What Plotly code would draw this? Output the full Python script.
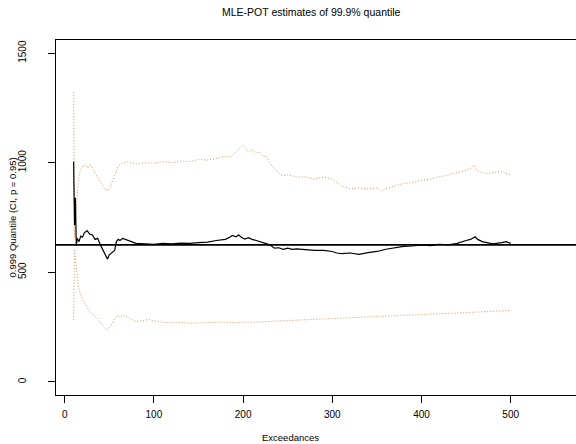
import plotly.graph_objects as go

# Number of exceedances and MLE-POT estimate of the 99.9% quantile
est_n = [10, 11, 12, 13, 14, 16, 18, 20, 22, 25, 28, 31, 34, 37, 40, 43, 46, 48, 50, 53,
         56, 58, 60, 62, 65, 68, 72, 76, 80, 90, 100, 110, 120, 130, 140, 150, 160, 170,
         180, 185, 188, 192, 195, 198, 202, 206, 210, 215, 220, 225, 230, 235, 240, 245,
         250, 255, 260, 270, 280, 290, 300, 305, 310, 320, 330, 340, 350, 360, 370, 380,
         390, 400, 410, 420, 430, 440, 450, 455, 460, 463, 468, 475, 480, 490, 495, 500]
est_q = [1005, 715, 840, 620, 655, 640, 665, 660, 680, 690, 675, 670, 650, 655, 625, 600,
         575, 560, 580, 590, 600, 640, 650, 645, 655, 650, 643, 636, 632, 630, 628, 632,
         630, 633, 632, 635, 638, 645, 650, 660, 668, 662, 670, 660, 652, 658, 650, 645,
         640, 632, 625, 610, 612, 605, 610, 605, 607, 603, 600, 600, 595, 588, 585, 588,
         582, 590, 595, 605, 612, 618, 620, 625, 622, 628, 625, 632, 645, 650, 662, 650,
         640, 636, 630, 635, 640, 632]

# Upper limit of the 95% confidence interval
upper_n = [10, 11, 12, 13, 14, 15, 16, 18, 20, 22, 24, 26, 28, 30, 33, 36, 39, 42, 45, 48,
           51, 54, 57, 60, 63, 66, 70, 75, 80, 90, 100, 110, 120, 130, 140, 150, 160, 170,
           180, 185, 190, 195, 200, 203, 206, 210, 214, 218, 222, 226, 230, 235, 240, 245,
           250, 260, 270, 280, 290, 300, 305, 310, 320, 330, 340, 350, 355, 360, 370, 380,
           390, 400, 410, 420, 430, 440, 450, 455, 459, 462, 468, 475, 482, 490, 495, 500]
upper_q = [1322, 660, 730, 800, 860, 905, 940, 970, 985, 990, 985, 975, 990, 985, 960, 940,
           915, 895, 880, 872, 890, 920, 950, 985, 995, 1000, 1005, 998, 995, 1000, 998,
           1005, 1000, 1008, 1005, 1015, 1012, 1020, 1030, 1025, 1040, 1060, 1080, 1065,
           1050, 1060, 1045, 1050, 1030, 1030, 1000, 975, 950, 940, 945, 935, 935, 925, 935,
           925, 910, 895, 880, 885, 880, 885, 870, 880, 895, 905, 910, 920, 925, 935, 945,
           955, 965, 975, 990, 965, 955, 950, 955, 962, 950, 945]

# Lower limit of the 95% confidence interval
lower_n = [10, 11, 12, 13, 14, 15, 16, 18, 20, 22, 25, 28, 31, 34, 37, 40, 43, 46, 48, 50,
           53, 56, 60, 63, 66, 70, 75, 80, 85, 90, 95, 100, 105, 110, 120, 130, 140, 150,
           160, 170, 180, 190, 200, 210, 220, 230, 240, 260, 280, 300, 320, 340, 360, 380,
           400, 420, 440, 460, 480, 500]
lower_q = [283, 600, 560, 520, 480, 445, 420, 395, 375, 360, 340, 320, 310, 300, 290, 270,
           255, 242, 238, 250, 265, 290, 300, 298, 305, 295, 285, 275, 278, 280, 285, 278,
           275, 272, 270, 272, 268, 270, 270, 272, 272, 270, 272, 272, 273, 276, 278, 282,
           286, 290, 294, 297, 301, 304, 308, 311, 314, 318, 322, 326]

# Reference level drawn across the panel
ref_level = 625

x_ticks = [0, 100, 200, 300, 400, 500]
y_ticks = [0, 500, 1000, 1500]

ci_color = "rgb(225,145,80)"
font_family = "Liberation Sans, Arial, Helvetica, sans-serif"

fig = go.Figure()
fig.add_trace(go.Scatter(x=upper_n, y=upper_q, mode="lines",
                         line=dict(color=ci_color, width=1, dash="1px,2px")))
fig.add_trace(go.Scatter(x=lower_n, y=lower_q, mode="lines",
                         line=dict(color=ci_color, width=1, dash="1px,2px")))
fig.add_trace(go.Scatter(x=est_n, y=est_q, mode="lines",
                         line=dict(color="black", width=1.2)))
fig.add_hline(y=ref_level, line=dict(color="black", width=1.6))

fig.update_layout(
    width=576, height=444,
    margin=dict(l=56, r=0, t=40, b=49),
    plot_bgcolor="white", paper_bgcolor="white",
    showlegend=False,
    font=dict(family=font_family, color="black", size=10),
    xaxis=dict(range=[-9.75, 573.2], tickvals=x_ticks, ticks="outside", ticklen=7,
               tickcolor="black", showline=True, linecolor="black", linewidth=1,
               mirror=True, showgrid=False, zeroline=False,
               tickfont=dict(size=10), ticklabelstandoff=3),
    yaxis=dict(range=[-60, 1560], tickvals=y_ticks, ticks="outside", ticklen=7,
               tickcolor="black", showline=True, linecolor="black", linewidth=1,
               showgrid=False, zeroline=False, tickangle=-90,
               tickfont=dict(size=10), ticklabelstandoff=18),
    annotations=[
        dict(text="MLE-POT estimates of 99.9% quantile", xref="paper", yref="paper",
             x=(311 - 56) / 520, y=(395 - 12) / 355, xanchor="center", yanchor="middle",
             showarrow=False, font=dict(size=10.5)),
        dict(text="Exceedances", xref="paper", yref="paper",
             x=(290 - 56) / 520, y=(395 - 437) / 355, xanchor="center", yanchor="middle",
             showarrow=False, font=dict(size=9.5)),
        dict(text="0.999 Quantile (CI, p = 0.95)", xref="paper", yref="paper",
             x=(12 - 56) / 520, y=0.5, xanchor="center", yanchor="middle",
             textangle=-90, showarrow=False, font=dict(size=9.5)),
    ],
)

fig.write_html("out.html")
